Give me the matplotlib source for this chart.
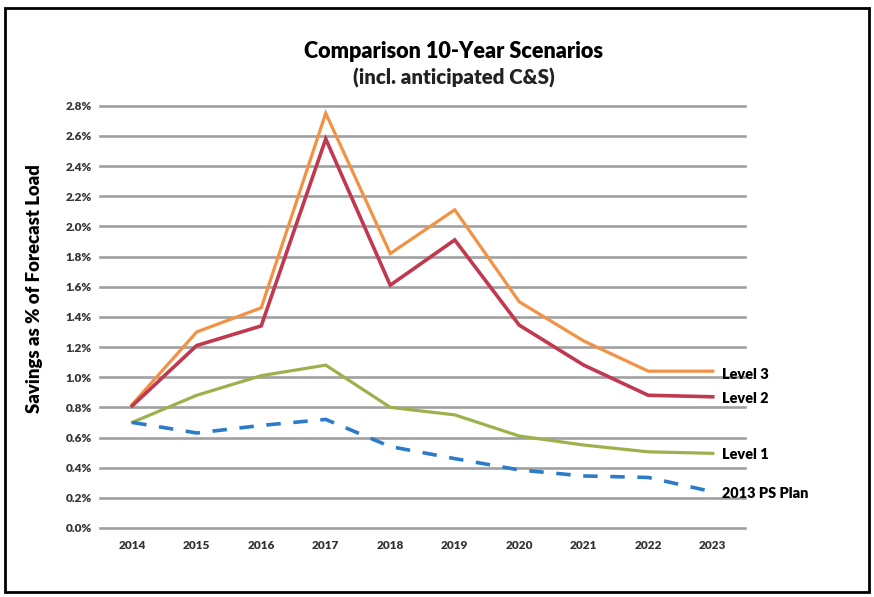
import matplotlib
matplotlib.use("Agg")
import matplotlib.pyplot as plt
from matplotlib.patches import Rectangle
from matplotlib.ticker import FuncFormatter, MultipleLocator

years = ["2014", "2015", "2016", "2017", "2018", "2019", "2020", "2021", "2022", "2023"]
level3 = [0.82, 1.30, 1.46, 2.75, 1.82, 2.11, 1.50, 1.24, 1.04, 1.04]
level2 = [0.81, 1.21, 1.34, 2.58, 1.61, 1.91, 1.345, 1.08, 0.88, 0.87]
level1 = [0.70, 0.88, 1.01, 1.08, 0.80, 0.75, 0.61, 0.55, 0.505, 0.495]
ps_plan = [0.70, 0.63, 0.68, 0.72, 0.54, 0.46, 0.385, 0.345, 0.335, 0.24]
series_names = ["Level 3", "Level 2", "Level 1", "2013 PS Plan"]

plt.rcParams['font.family'] = ["Lato", "DejaVu Sans"]

fig = plt.figure(figsize=(8.74, 5.97), dpi=100)
ax = fig.add_axes([0.1144, 0.1156, 0.738, 0.7073])

x = list(range(len(years)))
ax.plot(x, level3, color="#F39244", lw=2.3, solid_joinstyle="miter")
ax.plot(x, level2, color="#C0394E", lw=2.6, solid_joinstyle="miter")
ax.plot(x, level1, color="#9BB24C", lw=2.3, solid_joinstyle="miter")
ax.plot(x, ps_plan, color="#2B7BC8", lw=2.6, ls=(0, (4, 3.5)))

ax.set_xlim(-0.5, len(years) - 0.5)
ax.set_ylim(0, 2.8)
ax.yaxis.set_major_locator(MultipleLocator(0.2))
ax.yaxis.set_major_formatter(FuncFormatter(lambda v, p: f"{v:.1f}%"))
ax.set_xticks(x)
ax.set_xticklabels(years)
ax.grid(axis="y", color="#a0a0a0", lw=1.9)
for gl in ax.get_ygridlines():
    gl.set_clip_on(False)
ax.set_axisbelow(True)
for s in ax.spines.values():
    s.set_visible(False)
ax.tick_params(axis="y", length=0, labelsize=8.5, labelcolor="#333333", pad=6)
ax.tick_params(axis="x", length=0, labelsize=8.5, labelcolor="#333333", pad=9)
for lab in ax.get_xticklabels() + ax.get_yticklabels():
    lab.set_fontweight("heavy")

ylab = ax.set_ylabel("Savings as % of Forecast Load", fontsize=11, fontweight="heavy")
ax.yaxis.set_label_coords(-0.088, 0.566)

# end labels
ends = [level3[-1], level2[-1], level1[-1], ps_plan[-1]]
offsets = [-0.02, -0.01, -0.01, -0.013]
end_texts = []
for name, v, o in zip(series_names, ends, offsets):
    end_texts.append(ax.text(len(years) - 1 + 0.14, v + o, name, fontsize=10, fontweight="heavy",
                             va="center", ha="left", clip_on=False))

t1 = fig.text(454 / 874, 1 - 51 / 597, "Comparison 10-Year Scenarios", ha="center", va="center",
              fontsize=15, fontweight="heavy")
t2 = fig.text(454 / 874, 1 - 78 / 597, "(incl. anticipated C&S)", ha="center", va="center",
              fontsize=13.5, fontweight="heavy", color="#222222")

fig.patches.append(Rectangle((5 / 874, 5 / 597), 864 / 874, 584 / 597, transform=fig.transFigure,
                             fill=False, edgecolor="black", lw=2))

# fit text widths to the reference
fig.canvas.draw()
r = fig.canvas.get_renderer()

def fit(t, target, vertical=False):
    bb = t.get_window_extent(r)
    cur = bb.height if vertical else bb.width
    t.set_fontsize(t.get_fontsize() * target / cur)

fit(t1, 302)
fit(t2, 201)
fit(ylab, 248, vertical=True)
fit(end_texts[0], 47)
fs = end_texts[0].get_fontsize()
for t in end_texts[1:]:
    t.set_fontsize(fs)

fig.savefig("out.png", dpi=100)
